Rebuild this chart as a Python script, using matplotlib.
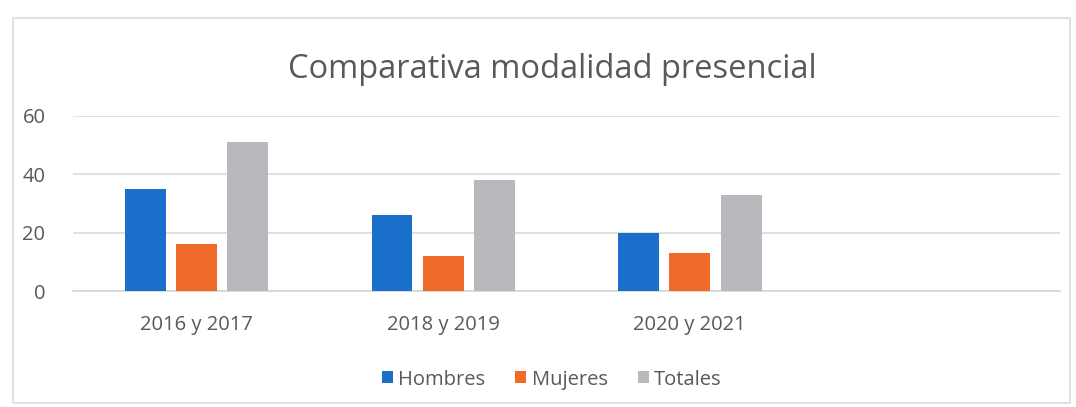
import numpy as np
import matplotlib.pyplot as plt
from matplotlib.patches import Rectangle

# Datos de la comparativa (la cuarta categoría queda vacía, como en la hoja)
periodos = ['2016 y 2017', '2018 y 2019', '2020 y 2021', '']
hombres = [35, 26, 20]
mujeres = [16, 12, 13]
totales = [51, 38, 33]
ticks_y = [0, 20, 40, 60]

colores = {'Hombres': '#1b6fcc', 'Mujeres': '#f06b2a', 'Totales': '#b9b9bd'}
gris_texto = '#595959'

plt.rcParams['font.family'] = ['Open Sans', 'DejaVu Sans']

fig = plt.figure(figsize=(10.76, 4.07), dpi=100)
ax = fig.add_axes([0.068, 0.285, 0.917, 0.43])

x = np.arange(len(periodos))
ancho = 0.165
paso = 0.208
ax.bar(x[:3] - paso, hombres, ancho, color=colores['Hombres'], label='Hombres', zorder=3)
ax.bar(x[:3], mujeres, ancho, color=colores['Mujeres'], label='Mujeres', zorder=3)
ax.bar(x[:3] + paso, totales, ancho, color=colores['Totales'], label='Totales', zorder=3)

ax.set_xlim(-0.5, len(periodos) - 0.5)
ax.set_ylim(0, 60)
ax.set_yticks(ticks_y)
ax.set_xticks(x[:3])
ax.set_xticklabels(periodos[:3])
ax.grid(axis='y', color='#dadada', linewidth=1.2, zorder=0)
for lado in ['top', 'right', 'left']:
    ax.spines[lado].set_visible(False)
ax.spines['bottom'].set_color('#d6d6d6')
ax.spines['bottom'].set_linewidth(1.2)
ax.tick_params(axis='both', length=0, colors=gris_texto, labelsize=14.5)
ax.tick_params(axis='y', pad=20)
ax.tick_params(axis='x', pad=17)

fig.text(0.513, 0.83, 'Comparativa modalidad presencial', ha='center', va='center',
         fontsize=23.5, color=gris_texto)

ax.legend(loc='upper center', bbox_to_anchor=(0.485, -0.345), ncol=3, frameon=False,
          fontsize=14.5, handlelength=0.55, handleheight=0.55, handletextpad=0.25,
          columnspacing=1.5, labelcolor=gris_texto)

# Marco exterior del gráfico
fig.patches.append(Rectangle((0.012, 0.01), 0.982, 0.945, transform=fig.transFigure,
                             fill=False, edgecolor='#e2e2e2', linewidth=1.5))

fig.savefig('out.png', dpi=100, facecolor='white')
